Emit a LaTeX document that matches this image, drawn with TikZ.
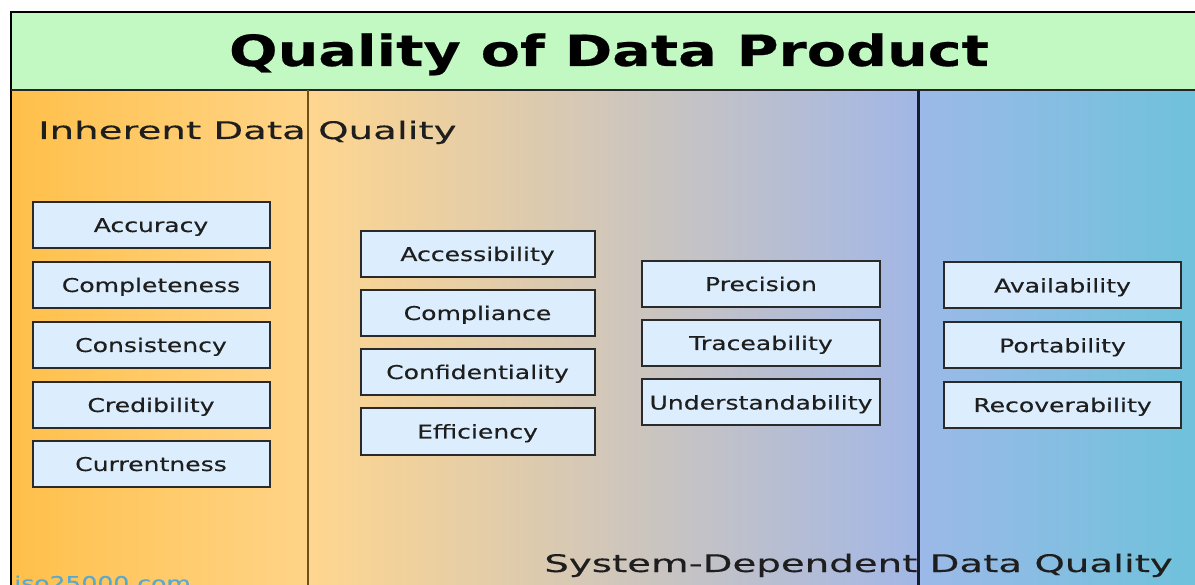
\documentclass[tikz,border=0pt]{standalone}
\usepackage{fontspec}
\setmainfont{DejaVu Sans}[FakeStretch=1.32, FakeBold=0.35]
\newfontfamily\lblfont{DejaVu Sans}[FakeStretch=1.6, FakeBold=0.3]
\newfontfamily\ttlfont{DejaVu Sans Bold}[FakeStretch=1.33, FakeBold=0.4]
\definecolor{titlegreen}{HTML}{C2F8C2}
\definecolor{orA}{HTML}{FFC04A}
\definecolor{orB}{HTML}{FFD488}
\definecolor{orC}{HTML}{FFD68E}
\definecolor{mauve}{HTML}{DCC0C6}
\definecolor{blA}{HTML}{A2B7E6}
\definecolor{blB}{HTML}{9CB9E8}
\definecolor{blC}{HTML}{6EC2DB}
\definecolor{boxfill}{HTML}{DCEEFD}
\definecolor{boxline}{HTML}{2A2A2A}
\definecolor{txt}{HTML}{1E1E1E}
\definecolor{divbrown}{HTML}{6E5018}
\definecolor{divdark}{HTML}{141E30}
\definecolor{isoblue}{HTML}{5AA8D0}
\tikzset{
  qbox/.style={draw=boxline, line width=2pt, fill=boxfill, text=txt,
    minimum width=237pt, minimum height=46pt, inner sep=0pt,
    font=\fontsize{19}{19}\selectfont, text height=14pt, text depth=0pt},
  panellabel/.style={text=txt, inner sep=0pt, anchor=base west,
    font=\lblfont\fontsize{24.2}{24.2}\selectfont}
}
\begin{document}
\begin{tikzpicture}[x=1pt,y=-1pt]
\useasboundingbox (0,0) rectangle (1195,585);
\fill[white] (0,0) rectangle (1195,585);
% panels
\shade[left color=orA, right color=orB] (11,90) rectangle (308,590);
\shade[left color=orC, middle color=mauve, right color=blA] (308,90) rectangle (918,590);
\shade[left color=blB, right color=blC] (918,90) rectangle (1200,590);
% title band
\fill[titlegreen] (11,12) rectangle (1200,90);
\draw[line width=2pt, black] (1200,12) -- (11,12) -- (11,590);
\draw[line width=2pt, black!85] (11,90) -- (1200,90);
\draw[line width=2pt, divbrown] (308,90) -- (308,590);
\draw[line width=3pt, divdark] (918,90) -- (918,590);
\node[anchor=base, inner sep=0pt, text=black, font=\ttlfont\fontsize{43}{43}\selectfont] (title) at (609,66) {Quality of Data Product};
\node[panellabel] (inh) at (38,139) {Inherent Data Quality};
\node[panellabel, anchor=base east] (sys) at (1173,572) {System-Dependent Data Quality};
\node[anchor=base west, inner sep=0pt, text=isoblue, font=\fontsize{19}{19}\selectfont] (iso) at (14,590) {iso25000.com};
% column 1
\node[qbox] (acc) at (151,225) {Accuracy};
\node[qbox] (com) at (151,285) {Completeness};
\node[qbox] (con) at (151,345) {Consistency};
\node[qbox] (cre) at (151,405) {Credibility};
\node[qbox] (cur) at (151,464) {Currentness};
% column 2
\node[qbox, minimum width=234pt] (accs) at (477.5,254) {Accessibility};
\node[qbox, minimum width=234pt] (comp) at (477.5,313) {Compliance};
\node[qbox, minimum width=234pt] (conf) at (477.5,372) {Confidentiality};
\node[qbox, minimum width=234pt] (eff) at (477.5,431.5) {Efficiency};
% column 3
\node[qbox, minimum width=238pt] (pre) at (761,284) {Precision};
\node[qbox, minimum width=238pt] (tra) at (761,343) {Traceability};
\node[qbox, minimum width=238pt] (und) at (761,402.5) {Understandability};
% column 4
\node[qbox] (ava) at (1062.5,285.5) {Availability};
\node[qbox] (por) at (1062.5,345.5) {Portability};
\node[qbox] (rec) at (1062.5,405) {Recoverability};
\end{tikzpicture}
\end{document}
